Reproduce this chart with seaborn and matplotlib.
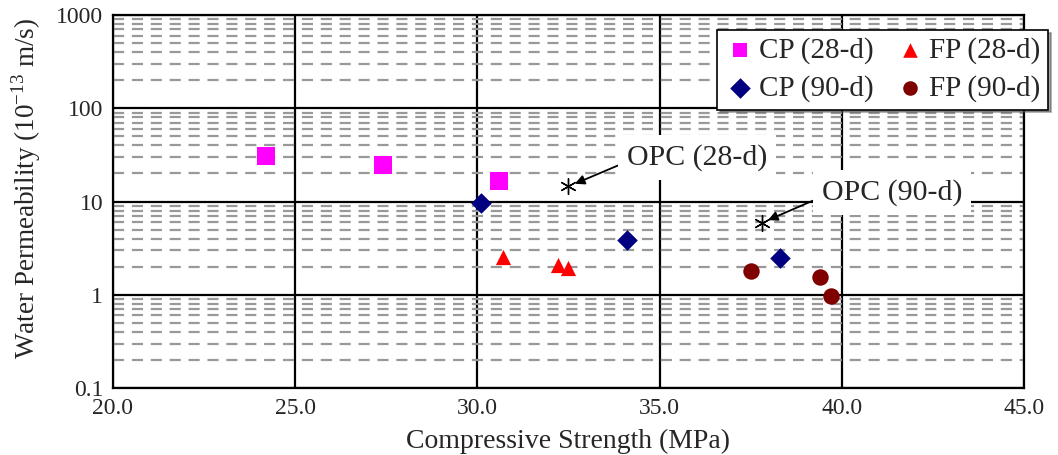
import matplotlib
matplotlib.use("Agg")
import matplotlib.pyplot as plt
import seaborn as sns
import numpy as np

# Data
cp28_x = [24.2, 27.4, 30.6]
cp28_y = [30.5, 24.8, 16.6]
cp90_x = [30.1, 34.1, 38.3]
cp90_y = [9.7, 3.9, 2.5]
fp28_x = [30.7, 32.2, 32.5]
fp28_y = [2.55, 2.1, 1.95]
fp90_x = [37.5, 39.4, 39.7]
fp90_y = [1.8, 1.55, 0.97]
opc_x = [32.5, 37.8]
opc_y = [14.5, 5.9]
opc_labels = ["OPC (28-d)", "OPC (90-d)"]
opc_text_x = [34.1, 39.45]
opc_text_y = [29.5, 12.4]

x_ticks = [20, 25, 30, 35, 40, 45]
y_ticks = [0.1, 1, 10, 100, 1000]
y_tick_labels = ["0.1", "1", "10", "100", "1000"]

sns.set_theme(style="white")
plt.rcParams['font.family'] = ['Liberation Serif', 'DejaVu Serif']
plt.rcParams['mathtext.fontset'] = 'custom'
plt.rcParams['mathtext.rm'] = 'Liberation Serif'

fig = plt.figure(figsize=(10.58, 4.55), dpi=100)
ax = fig.add_axes([113/1058, 1-388/455, (1024-113)/1058, (388-15)/455])

series = [
    ("CP (28-d)", cp28_x, cp28_y, "s", "#FF00FF", 150),
    ("CP (90-d)", cp90_x, cp90_y, "D", "#000080", 110),
    ("FP (28-d)", fp28_x, fp28_y, "^", "#FF0000", 120),
    ("FP (90-d)", fp90_x, fp90_y, "o", "#800000", 140),
]
for name, xs, ys, mk, col, s in series:
    sns.scatterplot(x=xs, y=ys, marker=mk, color=col, s=s, linewidth=0,
                    ax=ax, label=name, zorder=5)

sns.scatterplot(x=opc_x, y=opc_y, marker=(6, 2, 0), color="black", s=130,
                linewidth=1.0, ax=ax, zorder=5, legend=False)

handles, labels = ax.get_legend_handles_labels()
if ax.get_legend() is not None:
    ax.get_legend().remove()

ax.set_yscale("log")
ax.set_xlim(20, 45)
ax.set_ylim(0.1, 1000)
ax.set_xticks(x_ticks)
ax.set_xticklabels([f"{v:.1f}" for v in x_ticks])
ax.set_yticks(y_ticks)
ax.set_yticklabels(y_tick_labels)
ax.yaxis.set_minor_locator(matplotlib.ticker.LogLocator(base=10, subs=np.arange(2, 10)))
ax.yaxis.set_minor_formatter(matplotlib.ticker.NullFormatter())

ax.grid(True, which="major", axis="both", color="black", linewidth=1.6, linestyle="-", zorder=1)
ax.grid(True, which="minor", axis="y", color="#999999", linewidth=1.6, linestyle=(0, (5, 3.5)), zorder=1)
ax.set_axisbelow(True)
ax.tick_params(axis="both", which="both", length=0, labelsize=17, pad=7)
for sp in ax.spines.values():
    sp.set_color("black")
    sp.set_linewidth(1.6)

ax.set_xlabel("Compressive Strength (MPa)", fontsize=20, labelpad=7)
ax.set_ylabel(r"Water Permeability (10$^{-13}$ m/s)", fontsize=19.5)
ax.yaxis.set_label_coords(-0.077, 0.536)

for lab, px, py, tx, ty in zip(opc_labels, opc_x, opc_y, opc_text_x, opc_text_y):
    ax.annotate(lab, xy=(px, py), xytext=(tx, ty), textcoords="data",
                ha="left", va="center", fontsize=21.5, zorder=6,
                bbox=dict(boxstyle="square,pad=0.3", fc="white", ec="none"),
                arrowprops=dict(arrowstyle="-|>", color="black", lw=1.3,
                                shrinkA=0, shrinkB=5, relpos=(0, 0.35),
                                mutation_scale=14))

leg = fig.legend(handles, labels, ncol=2, loc="upper right",
                 bbox_to_anchor=(1048/1058, 1-30/455), fontsize=21,
                 frameon=True, fancybox=False, shadow=True, borderpad=0.25,
                 borderaxespad=0, handletextpad=0.1, columnspacing=0.7,
                 labelspacing=0.38, handlelength=1.1, markerscale=1.0)
leg.get_frame().set_edgecolor("black")
leg.get_frame().set_linewidth(1.2)
for h in leg.legend_handles:
    h.set_sizes([110])

fig.savefig("out.png", dpi=100)
